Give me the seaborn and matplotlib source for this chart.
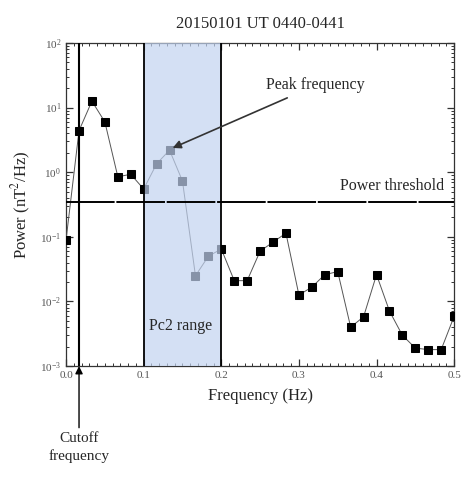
import matplotlib
matplotlib.use("Agg")
import matplotlib.pyplot as plt
import matplotlib.ticker as mticker
import seaborn as sns
import pandas as pd

# Spectrum samples (Hz, nT^2/Hz)
freq = [0.0, 0.0167, 0.0333, 0.05, 0.0667, 0.0833, 0.1, 0.1167, 0.1333, 0.15,
        0.1667, 0.1833, 0.2, 0.2167, 0.2333, 0.25, 0.2667, 0.2833, 0.3, 0.3167,
        0.3333, 0.35, 0.3667, 0.3833, 0.4, 0.4167, 0.4333, 0.45, 0.4667, 0.4833, 0.5]
power = [0.09, 4.4, 12.6, 6.0, 0.85, 0.93, 0.55, 1.35, 2.2, 0.73,
         0.025, 0.050, 0.065, 0.021, 0.021, 0.060, 0.083, 0.114, 0.0126, 0.0167,
         0.026, 0.029, 0.0040, 0.0058, 0.026, 0.0071, 0.0030, 0.0019, 0.0018, 0.0018, 0.0059]

cutoff_freq = 0.0167
pc2_range = [0.1, 0.2]
power_threshold = 0.35
peak_freq = 0.1333
peak_power = 2.2
x_ticks = [0.0, 0.1, 0.2, 0.3, 0.4, 0.5]
x_tick_labels = ["0.0", "0.1", "0.2", "0.3", "0.4", "0.5"]

df = pd.DataFrame({"freq": freq, "power": power})

sns.set_style("ticks")
plt.rcParams["font.family"] = ["Liberation Serif", "DejaVu Serif"]
plt.rcParams["mathtext.fontset"] = "stix"

fig = plt.figure(figsize=(4.62, 4.83), dpi=100)
ax = fig.add_axes([0.143, 0.242, 0.840, 0.669])

sns.lineplot(data=df, x="freq", y="power", ax=ax, color="#555555", lw=0.7,
             marker="s", markersize=5.5, markerfacecolor="black",
             markeredgecolor="black", zorder=3)

ax.set_yscale("log")
ax.set_xlim(0, 0.5)
ax.set_ylim(1e-3, 1e2)

# Pc2 band drawn over the curve, translucent
ax.axvspan(pc2_range[0], pc2_range[1], color="#c2d3f0", alpha=0.7, lw=0, zorder=4)
for xv in pc2_range:
    ax.axvline(xv, color="black", lw=1.3, zorder=5)
ax.axvline(cutoff_freq, color="black", lw=1.5, zorder=5)

ax.axhline(power_threshold, color="black", lw=1.4, zorder=5,
           dashes=(25, 0.9))

ax.text(0.148, 0.0042, "Pc2 range", ha="center", va="center",
        fontsize=11.5, zorder=6)
ax.text(0.487, power_threshold * 1.75, "Power threshold", ha="right",
        va="center", fontsize=11.5, zorder=6)
ax.annotate("Peak frequency", xy=(peak_freq + 0.004, peak_power * 1.08),
            xytext=(0.258, 22), ha="left", va="center", fontsize=11.5,
            arrowprops=dict(arrowstyle="-|>", color="#333333", lw=1.2,
                            mutation_scale=12, shrinkA=2, shrinkB=0),
            zorder=7)

ax.annotate("Cutoff\nfrequency", xy=(cutoff_freq, 0.0),
            xycoords=("data", "axes fraction"),
            xytext=(cutoff_freq, -0.205), textcoords=("data", "axes fraction"),
            ha="center", va="top", fontsize=11, linespacing=1.4,
            arrowprops=dict(arrowstyle="-|>", color="black", lw=1.0,
                            mutation_scale=11, shrinkA=1, shrinkB=0),
            annotation_clip=False)

ax.set_xticks(x_ticks)
ax.set_xticklabels(x_tick_labels)
ax.xaxis.set_minor_locator(mticker.MultipleLocator(0.01))
ax.yaxis.set_major_locator(mticker.LogLocator(base=10, numticks=10))
ax.yaxis.set_minor_locator(mticker.LogLocator(base=10, subs=range(2, 10), numticks=20))
ax.yaxis.set_minor_formatter(mticker.NullFormatter())
ax.yaxis.set_major_formatter(mticker.LogFormatterMathtext())

ax.tick_params(which="both", direction="in", top=True, right=True,
               colors="#333333", labelcolor="#555555", labelsize=8)
ax.tick_params(which="major", length=5, width=0.9)
ax.tick_params(which="minor", length=2.5, width=0.7)
for s in ax.spines.values():
    s.set_color("#333333")
    s.set_linewidth(0.9)

ax.set_xlabel("Frequency (Hz)", fontsize=12, labelpad=6)
ax.set_ylabel("Power (nT$^2$/Hz)", fontsize=12, labelpad=5)
ax.set_title("20150101 UT 0440-0441", fontsize=12, pad=11)

fig.savefig("out.png", dpi=100)
